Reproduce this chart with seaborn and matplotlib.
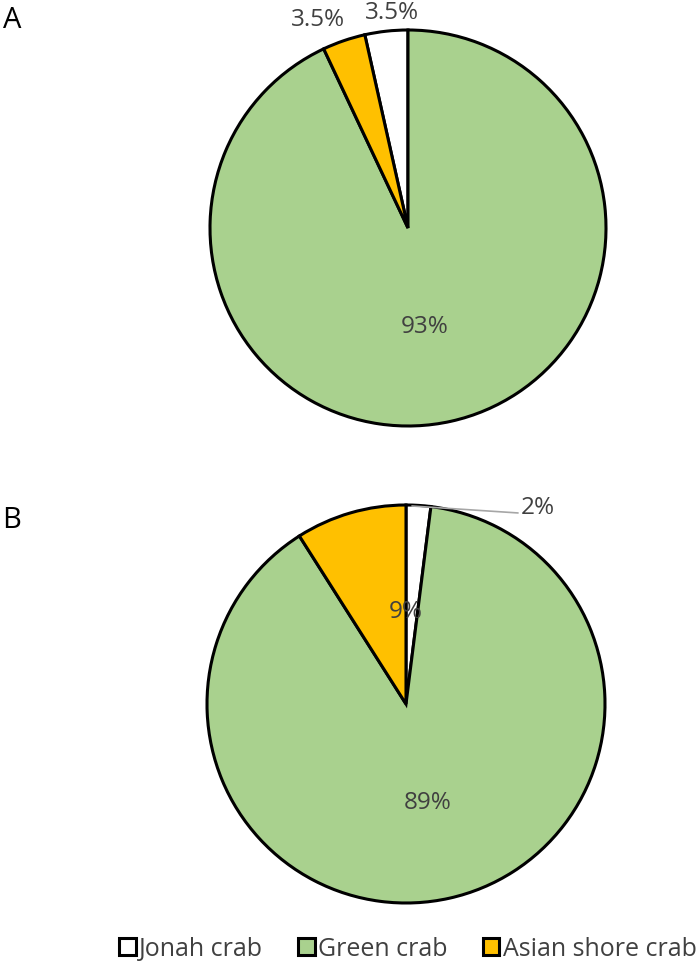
import matplotlib
matplotlib.use("Agg")
import matplotlib.pyplot as plt
import seaborn as sns
from matplotlib.patches import Patch

sns.set_theme(style="white")
plt.rcParams['font.family'] = ['Open Sans', 'DejaVu Sans']

categories = ["Jonah crab", "Green crab", "Asian shore crab"]
colors = ["#FFFFFF", "#A9D18E", "#FFC000"]
values_a = [3.5, 93, 3.5]
values_b = [2, 89, 9]
labels_a = ["3.5%", "93%", "3.5%"]
labels_b = ["2%", "89%", "9%"]

W, H = 700, 962
fig = plt.figure(figsize=(W / 100, H / 100), dpi=100)
fig.patch.set_facecolor("white")

def pie_axes(cx, cy, r):
    ax = fig.add_axes([(cx - r) / W, 1 - (cy + r) / H, 2 * r / W, 2 * r / H])
    return ax

def finish(ax):
    ax.set_xlim(-1, 1)
    ax.set_ylim(-1, 1)
    ax.set_aspect("equal")
    ax.axis("off")

txt_color = "#404040"
fs = 17.5

# Pie A
axA = pie_axes(408, 229, 198)
axA.pie(values_a, colors=colors, startangle=90 + values_a[0] * 3.6, counterclock=False,
        radius=1, wedgeprops=dict(edgecolor="black", linewidth=2.2))
finish(axA)
axA.text(-0.081, 1.09, labels_a[0], ha="center", va="center", fontsize=fs, color=txt_color, clip_on=False)
axA.text(0.086, -0.495, labels_a[1], ha="center", va="center", fontsize=fs, color=txt_color)
axA.text(-0.455, 1.056, labels_a[2], ha="center", va="center", fontsize=fs, color=txt_color, clip_on=False)

# Pie B
axB = pie_axes(406, 705, 199)
axB.pie(values_b, colors=colors, startangle=90, counterclock=False,
        radius=1, wedgeprops=dict(edgecolor="black", linewidth=2.2))
finish(axB)
axB.plot([0.03, 0.563], [0.995, 0.96], color="#A6A6A6", lw=1.2, clip_on=False)
axB.text(0.663, 0.99, labels_b[0], ha="center", va="center", fontsize=fs, color=txt_color, clip_on=False)
axB.text(0.11, -0.49, labels_b[1], ha="center", va="center", fontsize=fs, color=txt_color)
axB.text(0.0, 0.467, labels_b[2], ha="center", va="center", fontsize=fs, color=txt_color)

# Panel letters
fig.text(12 / W, 1 - 20 / H, "A", fontsize=21, color="black", ha="center", va="center")
fig.text(12 / W, 1 - 520 / H, "B", fontsize=21, color="black", ha="center", va="center")

handles = [Patch(facecolor=c, edgecolor="black", linewidth=2.2) for c in colors]
leg = fig.legend(handles, categories, loc="center", bbox_to_anchor=(408 / W, 1 - 950 / H),
                 ncol=3, frameon=False, fontsize=18, handlelength=0.65, handleheight=0.65,
                 handletextpad=0.15, columnspacing=1.4, labelcolor=txt_color)

fig.savefig("out.png", dpi=100, facecolor="white")
